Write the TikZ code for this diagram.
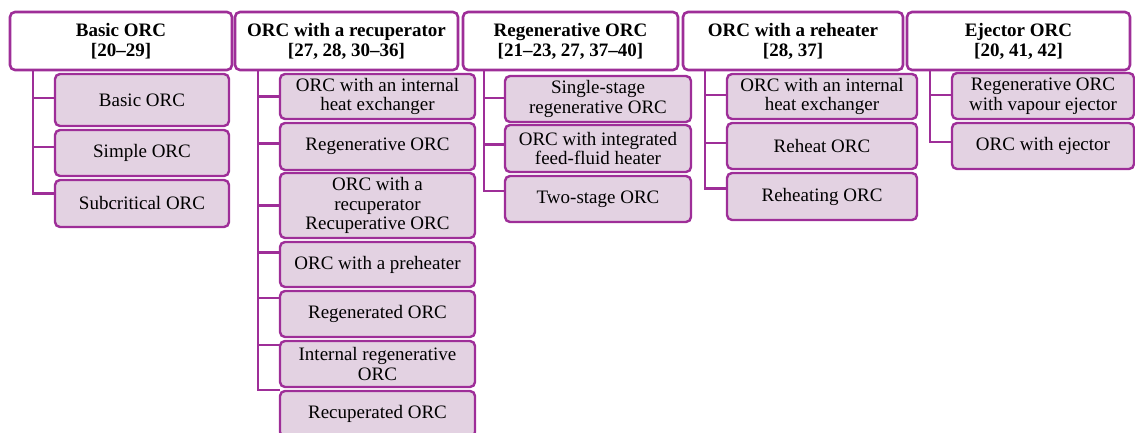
\documentclass[tikz,border=0pt]{standalone}
\usepackage{fontspec}
\setmainfont{Liberation Serif}
\definecolor{orcline}{RGB}{158,46,152}
\definecolor{orcfill}{RGB}{227,210,226}
\tikzset{
  hdr/.style={draw=orcline, fill=white, line width=2.6pt, rounded corners=5pt, align=center,
    inner sep=0pt, outer sep=0pt, font=\fontsize{19}{20}\selectfont\bfseries},
  sub/.style={draw=orcline, fill=orcfill, line width=2.4pt, rounded corners=5pt, align=center,
    inner sep=0pt, outer sep=0pt, font=\fontsize{19}{19.5}\selectfont},
  conn/.style={draw=orcline, line width=2.4pt},
}
\newcommand\orcbox[7]{\node[#1, minimum width={(#5-#3)*1pt}, minimum height={(#6-#4)*1pt}] (#2) at ({(#3+#5)/2},{(#4+#6)/2}) {#7};}
\newcommand\orcbranch[3]{\coordinate (#2b) at ([yshift=#3pt]#2.west); \draw[conn] (#2b -| #1) -- (#2b);}
\newcommand\orclast[3]{\coordinate (#2b) at ([yshift=#3pt]#2.west); \draw[conn] (#1) |- (#2b);}
\begin{document}
\begin{tikzpicture}[x=1pt,y=-1pt]
\useasboundingbox (0,0) rectangle (1135,433);
\clip (0,0) rectangle (1135,433);
% headers
\orcbox{hdr}{h1}{10}{12}{232}{70}{Basic ORC\\\relax[20--29]}
\orcbox{hdr}{h2}{235}{12}{458}{70}{ORC with a recuperator\\\relax[27, 28, 30--36]}
\orcbox{hdr}{h3}{463}{12}{678}{70}{Regenerative ORC\\\relax[21--23, 27, 37--40]}
\orcbox{hdr}{h4}{683}{12}{903}{70}{ORC with a reheater\\\relax[28, 37]}
\orcbox{hdr}{h5}{907}{12}{1130}{70}{Ejector ORC\\\relax[20, 41, 42]}
% column 1
\orcbox{sub}{c11}{55}{74}{229}{126}{Basic ORC}
\orcbox{sub}{c12}{55}{130}{229}{176}{Simple ORC}
\orcbox{sub}{c13}{55}{180}{229}{227}{Subcritical ORC}
% column 2
\orcbox{sub}{c21}{280}{74}{475}{119}{ORC with an internal\\heat exchanger}
\orcbox{sub}{c22}{280}{123}{475}{170}{Regenerative ORC}
\orcbox{sub}{c23}{280}{173}{475}{238}{ORC with a\\recuperator\\Recuperative ORC}
\orcbox{sub}{c24}{280}{242}{475}{287}{ORC with a preheater}
\orcbox{sub}{c25}{280}{291}{475}{337}{Regenerated ORC}
\orcbox{sub}{c26}{280}{341}{475}{387}{Internal regenerative\\ORC}
\orcbox{sub}{c27}{280}{391}{475}{437}{Recuperated ORC}
% column 3
\orcbox{sub}{c31}{505}{76}{691}{122}{Single-stage\\regenerative ORC}
\orcbox{sub}{c32}{505}{125}{691}{172}{ORC with integrated\\feed-fluid heater}
\orcbox{sub}{c33}{505}{176}{691}{222}{Two-stage ORC}
% column 4
\orcbox{sub}{c41}{727}{74}{917}{119}{ORC with an internal\\heat exchanger}
\orcbox{sub}{c42}{727}{123}{917}{169}{Reheat ORC}
\orcbox{sub}{c43}{727}{173}{917}{220}{Reheating ORC}
% column 5
\orcbox{sub}{c51}{952}{73}{1134}{119}{Regenerative ORC\\with vapour ejector}
\orcbox{sub}{c52}{952}{123}{1134}{169}{ORC with ejector}
% trunk tops
\coordinate (t1) at ([xshift=23pt]h1.south west);
\coordinate (t2) at ([xshift=23pt]h2.south west);
\coordinate (t3) at ([xshift=21pt]h3.south west);
\coordinate (t4) at ([xshift=22pt]h4.south west);
\coordinate (t5) at ([xshift=23pt]h5.south west);
% trunks with last branches
\orclast{t1}{c13}{10}
\orclast{t2}{c27}{24}
\orclast{t3}{c33}{8}
\orclast{t4}{c43}{8}
\orclast{t5}{c52}{4}
% other branches
\orcbranch{t1}{c11}{2}
\orcbranch{t1}{c12}{6}
\orcbranch{t2}{c21}{0}
\orcbranch{t2}{c22}{3}
\orcbranch{t2}{c23}{0}
\orcbranch{t2}{c24}{12}
\orcbranch{t2}{c25}{16}
\orcbranch{t2}{c26}{19}
\orcbranch{t3}{c31}{1}
\orcbranch{t3}{c32}{4}
\orcbranch{t4}{c41}{1.5}
\orcbranch{t4}{c42}{3}
\orcbranch{t5}{c51}{1}
\end{tikzpicture}
\end{document}
